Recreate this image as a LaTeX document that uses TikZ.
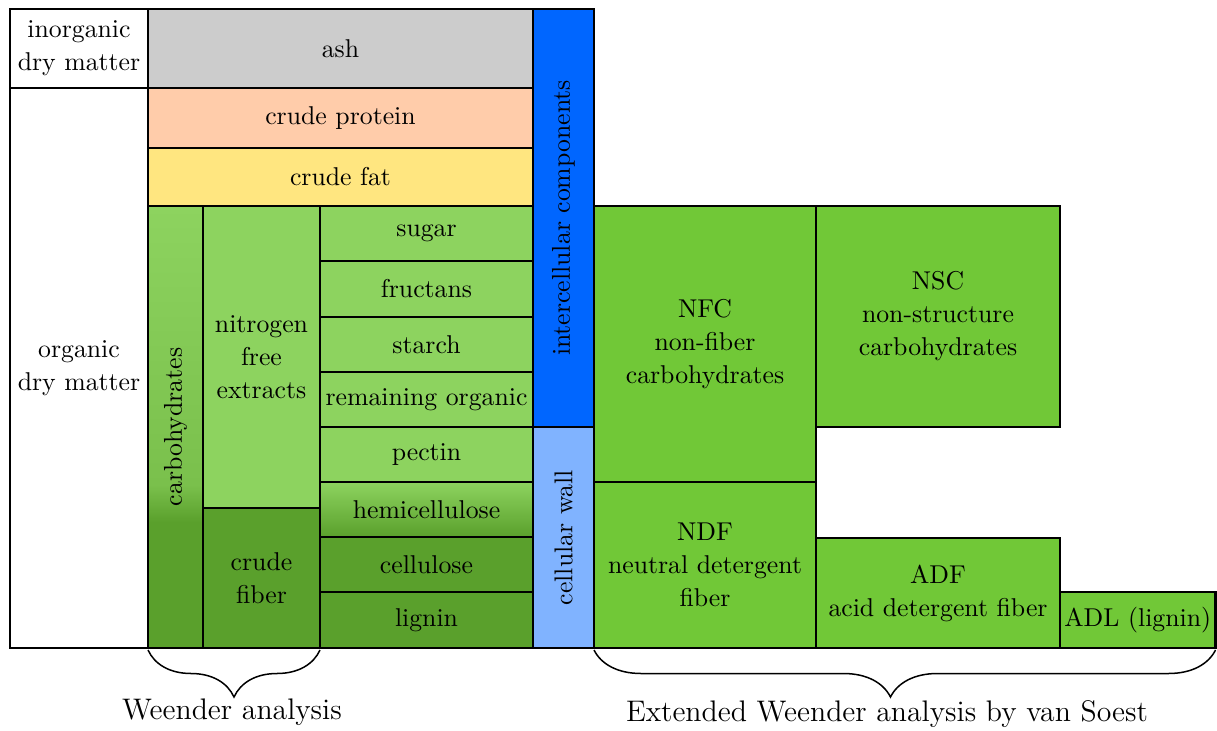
\documentclass[tikz,border=0pt]{standalone}
\usetikzlibrary{decorations.pathreplacing}

\definecolor{ashgray}{HTML}{CCCCCC}
\definecolor{protein}{HTML}{FFCCAA}
\definecolor{fat}{HTML}{FFE680}
\definecolor{lightgreen}{HTML}{8DD35F}
\definecolor{carbmid}{HTML}{7AC04C}
\definecolor{darkgreen}{HTML}{5AA02C}
\definecolor{soestgreen}{HTML}{71C837}
\definecolor{cellblue}{HTML}{0066FF}
\definecolor{wallblue}{HTML}{80B3FF}

\tikzset{
  cell/.style={draw=black, line width=1pt, inner sep=0pt, outer sep=0pt,
    align=center, font=\fontsize{10.3}{13.2}\selectfont},
  vtext/.style={rotate=90, inner sep=0pt, font=\fontsize{10.3}{13.2}\selectfont},
  bracket/.style={decorate, decoration={brace, mirror, amplitude=18.8pt},
    line width=0.6pt},
  caption/.style={font=\fontsize{11.9}{14}\selectfont, inner sep=0pt}
}

% name, x1, y1, x2, y2, style, text  (coordinates in pixels, y downwards)
\newcommand\boxcell[7]{%
  \node[cell,#6,minimum width={(#4-#2)*0.4pt},minimum height={(#5-#3)*0.4pt}]
    (#1) at ({(#2+#4)/2},{(#3+#5)/2}) {#7};}

\begin{document}
\begin{tikzpicture}[x=0.4pt,y=-0.4pt]
\useasboundingbox (0,0) rectangle (1217,731);

% graded fill of the carbohydrates column
\fill[top color=lightgreen, bottom color=carbmid] (148,206) rectangle (203,485);
\fill[top color=carbmid, bottom color=darkgreen] (148,485) rectangle (203,522);
\fill[darkgreen] (148,522) rectangle (203,648);

% dry matter
\boxcell{inorg}{10}{9}{148}{88}{fill=white}{inorganic\\dry matter}
\boxcell{org}{10}{88}{148}{648}{fill=white}{organic\\dry matter}

% Weender fractions
\boxcell{ash}{148}{9}{533}{88}{fill=ashgray}{ash}
\boxcell{prot}{148}{88}{533}{148}{fill=protein}{crude protein}
\boxcell{fat}{148}{148}{533}{206}{fill=fat}{crude fat}
\boxcell{carb}{148}{206}{203}{648}{}{}
\node[vtext] (carbtxt) at (carb.center) {carbohydrates};
\boxcell{nfe}{203}{206}{320}{508}{fill=lightgreen}{nitrogen\\free\\extracts}
\boxcell{cfib}{203}{508}{320}{648}{fill=darkgreen}{crude\\fiber}

% single components
\boxcell{sugar}{320}{206}{533}{261}{fill=lightgreen}{sugar}
\boxcell{fruct}{320}{261}{533}{317}{fill=lightgreen}{fructans}
\boxcell{starch}{320}{317}{533}{372}{fill=lightgreen}{starch}
\boxcell{remorg}{320}{372}{533}{427}{fill=lightgreen}{remaining organic}
\boxcell{pectin}{320}{427}{533}{482}{fill=lightgreen}{pectin}
\boxcell{hemi}{320}{482}{533}{537}{top color=lightgreen, bottom color=darkgreen}{hemicellulose}
\boxcell{cellu}{320}{537}{533}{592}{fill=darkgreen}{cellulose}
\boxcell{lignin}{320}{592}{533}{648}{fill=darkgreen}{lignin}

% location in the cell
\boxcell{inter}{533}{9}{594}{427}{fill=cellblue}{}
\node[vtext] (intertxt) at (inter.center) {intercellular components};
\boxcell{wall}{533}{427}{594}{648}{fill=wallblue}{}
\node[vtext] (walltxt) at (wall.center) {cellular wall};

% van Soest fractions
\boxcell{nfc}{594}{206}{816}{482}{fill=soestgreen}{NFC\\non-fiber\\carbohydrates}
\boxcell{nsc}{816}{206}{1060}{427}{fill=soestgreen}{NSC\\non-structure\\carbohydrates}
\boxcell{ndf}{594}{482}{816}{648}{fill=soestgreen}{NDF\\neutral detergent\\fiber}
\boxcell{adf}{816}{538}{1060}{648}{fill=soestgreen}{ADF\\acid detergent fiber}
\boxcell{adl}{1060}{592}{1215.5}{648}{fill=soestgreen}{ADL (lignin)}

% braces and captions
\draw[bracket] ([yshift=-0.8pt]carb.south west) -- ([yshift=-0.8pt]cfib.south east);
\node[caption] (weender) at (232,712) {Weender analysis};
\draw[bracket, decoration={aspect=0.477}]
  ([yshift=-0.8pt]ndf.south west) -- ([yshift=-0.8pt]adl.south east);
\node[caption] (soest) at (887,714) {Extended Weender analysis by van Soest};
\end{tikzpicture}
\end{document}
